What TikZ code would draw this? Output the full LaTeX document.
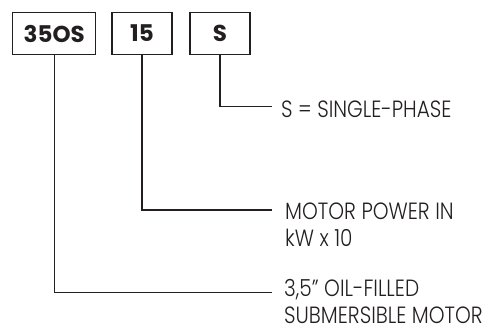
\documentclass[tikz,border=0pt]{standalone}
\usepackage{fontspec}
\setmainfont{Poppins}[UprightFont=* Light, BoldFont=* Bold]
\usepackage{tikz}
\usetikzlibrary{positioning}

\definecolor{ink}{HTML}{231F20}

\tikzset{
	codebox/.style={draw=ink, line width=1.4pt, fill=white, minimum height=41.6pt,
		inner sep=0pt, font=\fontsize{23}{23}\selectfont\bfseries, text=ink},
	legend/.style={anchor=base west, inner sep=0pt, align=left, text=ink,
		font=\fontsize{23.5}{27}\selectfont\addfontfeature{FakeStretch=0.855}},
	lead/.style={draw=ink, line width=1.3pt}
}

\begin{document}
\begin{tikzpicture}[x=1pt, y=-1pt]
		\useasboundingbox (0,0) rectangle (491,331);
		% code boxes
		\node[codebox, minimum width=83pt] (model) at (54.2,33.5) {35OS};
		\node[codebox, minimum width=60pt] (power) at (142,33.5) {15};
		\node[codebox, minimum width=60pt] (phase) at (220,33.5) {S};
		% ends of the leader lines
		\coordinate (phaseend) at (272,106.7);
		\coordinate (powerend) at (272,210);
		\coordinate (modelend) at (272,292.5);
		\draw[lead] (phase.south) |- (phaseend);
		\draw[lead] (power.south) |- (powerend);
		\draw[lead] (model.south) |- (modelend);
		% legends (base = last line)
		\node[legend] (phaselbl) at (281,117.3) {S = SINGLE-PHASE};
		\node[legend] (powerlbl) at (285,246.5) {MOTOR POWER IN\\kW x 10};
		\node[legend] (modellbl) at (284,324) {3,5\textquotedblright{} OIL-FILLED\\SUBMERSIBLE MOTOR};
	\end{tikzpicture}
\end{document}
